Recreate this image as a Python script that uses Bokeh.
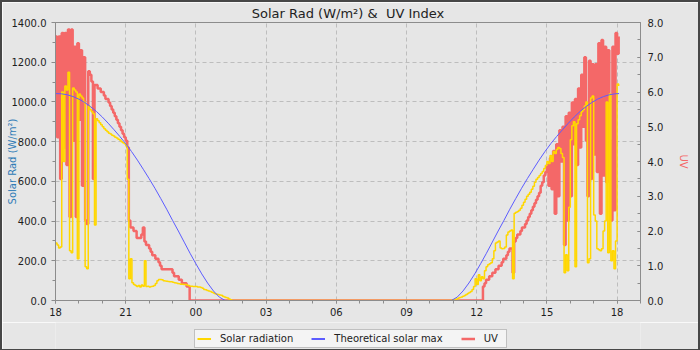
from bokeh.plotting import figure
from bokeh.layouts import column
from bokeh.models import (Range1d, LinearAxis, FixedTicker, NumeralTickFormatter,
                          Legend, LegendItem, ColumnDataSource)
from bokeh.embed import file_html
from bokeh.resources import INLINE

FONT = "DejaVu Sans"
YELLOW = "#ffd700"
BLUE = "#5c5cff"
RED = "#f46868"
BG = "#e6e6e6"

# Sample times, in minutes after 18:00 on the first day (4-minute logger records)
evening_minutes = list(range(0, 457, 4))      # 18:00 -> 01:36
morning_minutes = list(range(1008, 1445, 4))  # 10:48 -> 18:04

# Solar radiation (W/m²)
solar_evening = [
    290, 280, 265, 270, 1050, 700, 1080, 1060, 1150, 250,
    240, 1070, 1060, 1050, 210, 1040, 1030, 1020, 1000, 170,
    160, 980, 960, 950, 940, 380, 915, 905, 895, 885,
    875, 865, 858, 850, 842, 838, 832, 828, 822, 818,
    812, 808, 800, 795, 790, 780, 610, 110, 210, 90,
    80, 75, 70, 75, 68, 78, 72, 200, 70, 72,
    68, 70, 72, 75, 85, 100, 106, 106, 104, 100,
    98, 97, 96, 95, 94, 92, 90, 88, 85, 84,
    82, 82, 80, 80, 78, 76, 72, 72, 70, 70,
    70, 68, 68, 66, 62, 56, 54, 50, 48, 45,
    42, 38, 34, 32, 30, 28, 26, 22, 18, 15,
    12, 8, 4, 0, 0,
]
solar_morning = [
    0, 0, 2, 4, 6, 8, 12, 15, 18, 22,
    25, 30, 35, 40, 45, 55, 70, 110, 80, 130,
    100, 120, 110, 150, 170, 180, 185, 190, 210, 250,
    290, 295, 300, 265, 260, 262, 270, 330, 345, 350,
    355, 110, 440, 445, 448, 455, 465, 480, 495, 510,
    525, 535, 545, 560, 575, 595, 610, 620, 630, 640,
    650, 665, 680, 700, 690, 730, 700, 750, 740, 760,
    770, 765, 740, 720, 140, 230, 150, 470, 810, 880,
    900, 170, 890, 910, 930, 950, 960, 980, 1000, 190,
    210, 1020, 1030, 430, 400, 260, 255, 250, 260, 350,
    400, 1000, 240, 1040, 200, 250, 160, 300, 1090, 1080,
]

# UV index
uv_evening = [
    7.6, 4.7, 7.6, 3.5, 7.7, 4.4, 7.7, 3.9, 7.8, 2.4,
    7.8, 4.6, 7.3, 2.4, 7.4, 5.2, 7.2, 3.3, 7.0, 2.3,
    2.2, 6.6, 6.5, 6.3, 3.5, 6.2, 6.2, 6.1, 6.1, 6.0,
    6.0, 5.9, 5.8, 5.8, 5.7, 5.6, 5.5, 5.4, 5.3, 5.2,
    5.1, 5.0, 4.9, 4.8, 4.7, 4.6, 4.4, 2.3, 2.1, 2.1,
    2.0, 2.0, 1.8, 1.8, 1.8, 1.9, 2.1, 1.7, 1.6, 1.6,
    1.5, 1.4, 1.3, 1.3, 1.2, 1.2, 1.1, 1.0, 0.9, 0.9,
    0.9, 0.9, 0.9, 0.9, 0.9, 0.8, 0.7, 0.7, 0.7, 0.6,
    0.6, 0.5, 0.5, 0.5, 0.4, 0.4, 0, 0, 0, 0,
    0, 0, 0, 0, 0, 0, 0, 0, 0, 0,
    0, 0, 0, 0, 0, 0, 0, 0, 0, 0,
    0, 0, 0, 0, 0,
]
uv_morning = [
    0, 0, 0, 0, 0, 0, 0, 0, 0, 0,
    0, 0, 0, 0, 0, 0, 0, 0, 0, 0,
    0, 0, 0.4, 0.5, 0.6, 0.6, 0.7, 0.7, 0.8, 0.8,
    0.9, 0.9, 1.0, 1.0, 1.1, 1.2, 1.2, 1.3, 1.4, 1.5,
    1.5, 0.8, 1.7, 1.8, 1.9, 1.9, 2.0, 2.1, 2.1, 2.2,
    2.3, 2.4, 2.5, 2.6, 2.7, 2.8, 2.9, 3.0, 3.1, 3.3,
    3.4, 3.6, 3.7, 3.9, 3.3, 4.1, 3.2, 4.3, 2.5, 4.5,
    3.0, 4.9, 4.0, 5.0, 1.6, 5.3, 2.3, 5.4, 3.0, 5.7,
    4.5, 5.8, 3.9, 6.1, 4.4, 6.5, 5.0, 7.0, 4.6, 3.0,
    6.9, 3.5, 6.8, 4.2, 6.8, 3.7, 7.4, 2.5, 7.5, 3.6,
    7.3, 3.4, 7.2, 4.6, 2.3, 7.3, 2.6, 7.7, 7.1, 7.6,
]

# Theoretical clear-sky maximum (W/m²), every 15 minutes
theory_minutes = list(range(0, 436, 15)) + list(range(1015, 1436, 15)) + [1445]
theory_evening = [
    1042, 1041, 1036, 1027, 1014, 997, 976, 952, 924, 893,
    860, 826, 790, 750, 707, 661, 614, 565, 513, 460,
    404, 350, 294, 238, 185, 134, 88, 48, 17, 0,
]
theory_morning = [
    0, 17, 48, 88, 134, 185, 238, 294, 350, 404,
    460, 513, 565, 614, 661, 707, 750, 790, 826, 860,
    893, 924, 952, 976, 997, 1014, 1027, 1036, 1041, 1042,
]

# Axis ticks
hour_ticks = [0, 3, 6, 9, 12, 15, 18, 21, 24]
hour_labels = ["18", "21", "00", "03", "06", "09", "12", "15", "18"]
solar_ticks = [0, 200, 400, 600, 800, 1000, 1200, 1400]
uv_ticks = [0, 1, 2, 3, 4, 5, 6, 7, 8]

series_names = ["Solar radiation", "Theoretical solar max", "UV"]

obs = ColumnDataSource(dict(
    hours=[m / 60 for m in evening_minutes + morning_minutes],
    solar=solar_evening + solar_morning,
    uv=uv_evening + uv_morning,
))
theory = ColumnDataSource(dict(
    hours=[m / 60 for m in theory_minutes],
    theory=theory_evening + theory_morning,
))

# ---- main chart (696 px wide, sits inside a 2px dark border) ----
p = figure(frame_width=585, frame_height=278, output_backend="svg", toolbar_location=None,
           x_range=Range1d(0, 25), y_range=Range1d(0, 1400),
           min_border_left=53, min_border_right=58, min_border_top=19, min_border_bottom=22,
           background_fill_color=BG, border_fill_color=BG,
           title="Solar Rad (W/m²) &\u00a0 UV Index")
p.outline_line_color = "#8c8c8c"

p.title.align = "center"
p.title.text_font = FONT
p.title.text_font_size = "13px"
p.title.text_font_style = "normal"
p.title.text_color = "#222222"
p.title.standoff = 3

p.extra_y_ranges = {"uv": Range1d(0, 8)}

x_ticker = FixedTicker(ticks=hour_ticks, minor_ticks=list(range(0, 26)))
y_ticker = FixedTicker(ticks=solar_ticks, minor_ticks=list(range(0, 1401, 100)))
uv_ticker = FixedTicker(ticks=uv_ticks, minor_ticks=[i / 2 for i in range(17)])

xaxis = p.xaxis[0]
xaxis.axis_label = None
xaxis.ticker = x_ticker
xaxis.major_label_overrides = dict(zip(hour_ticks, hour_labels))
xaxis.major_tick_out = 3
xaxis.minor_tick_out = 3
xaxis.major_tick_in = 0
xaxis.minor_tick_in = 0
xaxis.major_label_standoff = 4

yaxis = p.yaxis[0]
yaxis.ticker = y_ticker
yaxis.formatter = NumeralTickFormatter(format="0.0")
yaxis.axis_label = "Solar Rad (W/m²)"
yaxis.axis_label_text_color = "#2e7bb6"
yaxis.major_tick_out = 4
yaxis.minor_tick_out = 3
yaxis.major_tick_in = 0
yaxis.minor_tick_in = 0
yaxis.major_label_standoff = 5
yaxis.axis_label_standoff = -9

uv_axis = LinearAxis(y_range_name="uv", ticker=uv_ticker,
                     formatter=NumeralTickFormatter(format="0.0"),
                     axis_label="UV", axis_label_text_color=RED)
uv_axis.major_tick_in = 3
uv_axis.major_tick_out = 0
uv_axis.minor_tick_in = 3
uv_axis.minor_tick_out = 0
uv_axis.major_label_standoff = 7
uv_axis.axis_label_standoff = 12
p.add_layout(uv_axis, "right")

for ax in (xaxis, yaxis, uv_axis):
    ax.axis_line_color = "#8c8c8c"
    ax.major_tick_line_color = "#8c8c8c"
    ax.minor_tick_line_color = "#8c8c8c"
    ax.major_label_text_font = FONT
    ax.major_label_text_font_size = "10px"
    ax.major_label_text_color = "#1e1e1e"
    ax.axis_label_text_font = FONT
    ax.axis_label_text_font_size = "10px"
    ax.axis_label_text_font_style = "normal"

p.xgrid.ticker = x_ticker
p.ygrid.ticker = y_ticker
for g in (p.xgrid, p.ygrid):
    g.grid_line_color = "#bdbdbd"
    g.grid_line_dash = "4 3"

p.step("hours", "uv", source=obs, mode="after", y_range_name="uv",
       line_color=RED, line_width=2.5)
p.step("hours", "solar", source=obs, mode="after", line_color=YELLOW, line_width=1.5)
p.line("hours", "theory", source=theory, line_color=BLUE, line_width=1)

# ---- legend strip under the chart ----
key = figure(width=696, height=27, output_backend="svg", toolbar_location=None,
             x_range=Range1d(0, 1), y_range=Range1d(0, 1),
             x_axis_location=None, y_axis_location=None,
             min_border_left=0, min_border_right=0, min_border_top=0, min_border_bottom=0,
             background_fill_color=BG, border_fill_color=BG)
key.outline_line_color = None
key.grid.grid_line_color = None
# swatch renderers: styled like the chart's series, their points lie outside the strip's range
k_solar = key.line([-2, -1], [-2, -1], line_color=YELLOW, line_width=2)
k_theory = key.line([-2, -1], [-2, -1], line_color=BLUE, line_width=2)
k_uv = key.line([-2, -1], [-2, -1], line_color=RED, line_width=2.5)

legend = Legend(items=[
    LegendItem(label=series_names[0], renderers=[k_solar]),
    LegendItem(label=series_names[1], renderers=[k_theory]),
    LegendItem(label=series_names[2], renderers=[k_uv]),
], orientation="horizontal", location=(139, 1))
legend.label_text_font = FONT
legend.label_text_font_size = "10px"
legend.label_text_color = "#222222"
legend.glyph_width = 14
legend.glyph_height = 13
legend.label_height = 13
legend.label_standoff = 9
legend.spacing = 18
legend.padding = 2
legend.margin = 0
legend.background_fill_color = "#f4f4f4"
legend.background_fill_alpha = 1
legend.border_line_color = "#8c8c8c"
key.add_layout(legend)

page = column(p, key, spacing=0, styles={"border": "2px solid #474747"})

open("out.html", "w").write(file_html(page, INLINE))
